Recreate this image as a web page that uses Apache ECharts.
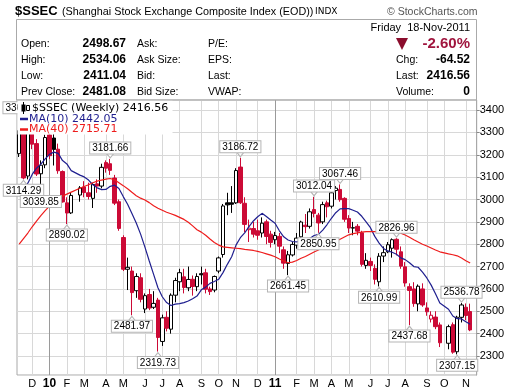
<!DOCTYPE html>
<html><head><meta charset="utf-8">
<script src="https://cdn.jsdelivr.net/npm/echarts@6/dist/echarts.min.js"></script>
<style>html,body{margin:0;padding:0;background:#fff}#c{width:520px;height:391px}</style>
</head><body><div id="c"></div>
<script>
// weekly slots (Monday of each week); null rows = market holiday weeks / padding
const weeks = ['2009-11-16','2009-11-23','2009-11-30','2009-12-07','2009-12-14','2009-12-21','2009-12-28',
'2010-01-04','2010-01-11','2010-01-18','2010-01-25','2010-02-01','2010-02-08','2010-02-15','2010-02-22',
'2010-03-01','2010-03-08','2010-03-15','2010-03-22','2010-03-29','2010-04-05','2010-04-12','2010-04-19','2010-04-26',
'2010-05-03','2010-05-10','2010-05-17','2010-05-24','2010-05-31','2010-06-07','2010-06-14','2010-06-21','2010-06-28',
'2010-07-05','2010-07-12','2010-07-19','2010-07-26','2010-08-02','2010-08-09','2010-08-16','2010-08-23','2010-08-30',
'2010-09-06','2010-09-13','2010-09-20','2010-09-27','2010-10-04','2010-10-11','2010-10-18','2010-10-25',
'2010-11-01','2010-11-08','2010-11-15','2010-11-22','2010-11-29','2010-12-06','2010-12-13','2010-12-20','2010-12-27',
'2011-01-03','2011-01-10','2011-01-17','2011-01-24','2011-01-31','2011-02-07','2011-02-14','2011-02-21','2011-02-28',
'2011-03-07','2011-03-14','2011-03-21','2011-03-28','2011-04-04','2011-04-11','2011-04-18','2011-04-25',
'2011-05-02','2011-05-09','2011-05-16','2011-05-23','2011-05-30','2011-06-06','2011-06-13','2011-06-20','2011-06-27',
'2011-07-04','2011-07-11','2011-07-18','2011-07-25','2011-08-01','2011-08-08','2011-08-15','2011-08-22','2011-08-29',
'2011-09-05','2011-09-12','2011-09-19','2011-09-26','2011-10-03','2011-10-10','2011-10-17','2011-10-24','2011-10-31',
'2011-11-07','2011-11-14','2011-11-21'];

const opens = [3205,3310,3105,3318,3250,3115,3155,3289,3275,3225,
3125,2985,2940,null,3020,3056,3030,3005,3070,3060,
3165,3160,3096,2990,2830,2688,2680,2592,2650,2510,
2575,2518,2550,2365,2473,2420,2572,2632,2654,2605,
2643,2610,2668,2672,2600,2595,2680,2754,2985,2985,
2985,3145,2983,2865,2870,2860,2850,2900,2845,2820,
2835,2775,2714,2752,2796,2833,2885,2880,2955,2930,
2900,2985,2970,3040,3045,3005,2915,2872,2880,2851,
2705,2723,2692,2632,2747,2766,2782,2822,2766,2699,
2610,2600,2533,2600,2515,2465,2474,2439,null,2357,
2440,2319,2473,2518,2498.67,null];

const highs = [3315,3361.39,3325,3332,3270,3175,3290,3306,3300,3250,
3130,3010,3030,null,3060,3082,3075,3075,3090,3160,
3175,3181.66,3110,3000,2840,2740,2700,2670,2670,2580,
2600,2590,2560,2485,2500,2580,2650,2690,2690,2700,
2660,2670,2700,2690,2610,2660,2745,2980,3030,3060,
3140,3186.72,3010,2910,2900,2910,2920,2910,2860,2855,
2850,2790,2770,2810,2850,2905,2935,2960,3012.04,2940,
2990,2995,3035,3060,3067.46,3010,2930,2900,2890,2860,
2760,2740,2710,2760,2790,2810,2826,2826.96,2790,2720,
2625,2630,2620,2625,2540,2500,2500,2450,null,2440,
2450,2480,2536.78,2535,2534.06,null];

const lows = [3190,3090,3090,3225,3105,3039.85,3140,3181,3152,3115,
2986,2890.02,2935,null,2990,3010,3000,2962,3030,3050,
3120,3110,2975,2860,2680,2595,2481.97,2560,2540,2492,
2505,2510,2319.73,2345,2410,2400,2540,2590,2580,2590,
2570,2590,2620,2580,2573,2585,2670,2740,2930,2940,
2980,2980,2853,2810,2830,2820,2830,2800,2785,2800,
2760,2690,2661.45,2745,2780,2825,2850,2870,2920,2850.95,
2890,2920,2960,3000,2990,2900,2850,2840,2840,2700,
2690,2680,2620,2610.99,2720,2760,2740,2750,2690,2610,
2437.68,2520,2500,2520,2480,2450,2420,2340,null,2330,
2310,2307.15,2450,2460,2411.04,null];

const closes = [3308.35,3096.26,3318.86,3247.35,3113.94,3153.41,3277.14,3196.00,3224.15,3128.59,
2989.29,2939.40,3018.13,null,3051.94,3031.01,3013.41,3067.17,3059.88,3143.84,
3140.06,3130.32,2983.73,2870.61,2688.00,2696.63,2583.53,2655.77,2553.59,2569.89,
2514.53,2535.28,2382.90,2470.62,2424.27,2572.00,2637.50,2672.52,2606.41,2642.31,
2610.74,2655.66,2663.19,2598.69,2588.00,2655.66,2738.74,2971.16,2975.94,2978.84,
3129.50,2985.43,2888.57,2871.80,2845.00,2840.00,2894.16,2834.58,2808.08,2838.80,
2791.17,2715.29,2752.75,2798.96,2827.33,2899.24,2878.73,2945.00,2937.63,2895.00,
2977.16,2967.41,3030.02,3050.53,2999.04,2911.51,2872.26,2874.00,2858.46,2709.95,
2728.00,2705.18,2642.82,2746.21,2762.08,2797.77,2820.17,2777.57,2701.73,2626.42,
2593.18,2534.36,2612.22,2528.29,2497.75,2482.34,2431.09,2359.22,null,2431.37,
2317.28,2473.41,2528.29,2481.08,2416.56,null];

const ma10 = [3018,3045,3073,3112,3140,3158,3182,3202,3212,3206,
3174,3159,3129,null,3109,3101,3087,3066,3052,3044,
3045,3059,3064,3049,3013,2979,2937,2895,2845,2787,
2725,2665,2605,2565,2539,2526,2532,2534,2539,2546,
2556,2568,2596,2608,2625,2633,2643,2673,2710,2744,
2796,2829,2851,2879,2904,2923,2938,2924,2908,2894,
2860,2833,2819,2812,2810,2816,2814,2826,2839,2844,
2863,2888,2916,2941,2958,2959,2959,2952,2944,2925,
2900,2874,2835,2805,2781,2770,2764,2755,2739,2731,
2717,2700,2697,2675,2649,2617,2578,2537,null,2509,
2479,2467,2466,2453,2442.05,null];

const ma40 = [2800,2825,2850,2878,2903,2928,2950,2970,2990,3005,
3015,3024,3033,null,3050,3058,3066,3075,3082,3087,
3091,3094,3088,3075,3062,3048,3032,3017,3006,2998,
2986,2972,2961,2952,2943,2936,2929,2920,2911,2898,
2882,2865,2854,2840,2823,2808,2796,2788,2786,2784,
2782,2780,2777,2775,2772,2768,2763,2757,2751,2744,
2734,2725,2717,2720,2727,2737,2745,2755,2765,2774,
2784,2794,2803,2812,2822,2832,2842,2847,2851,2854,
2856,2856,2856,2857,2859,2859,2858,2855,2849,2841,
2831,2820,2810,2800,2792,2783,2774,2766,null,2757,
2753,2748,2738,2726,2715.71,null];

// swing high / low annotations
const noteWeeks = ['2009-11-23','2009-11-23','2009-12-21','2010-02-01','2010-04-12','2010-05-17','2010-06-28','2010-11-08','2011-01-24','2011-03-14','2011-03-07','2011-04-18','2011-07-18','2011-06-20','2011-08-08','2011-10-24','2011-10-31'];
const noteKinds = ['high','low','low','low','high','low','low','high','low','low','high','high','high','low','low','low','high'];
const noteTexts = ['3361.39','3114.29','3039.85','2890.02','3181.66','2481.97','2319.73','3186.72','2661.45','2850.95','3012.04','3067.46','2826.96','2610.99','2437.68','2307.15','2536.78'];

const RED = '#cc0a36';
const FONT = 'Liberation Sans, Arial, sans-serif';
const LAST = weeks.length - 2; // last real week

const candleData = weeks.map((w, i) => {
  if (opens[i] == null) return '-';
  let p = i - 1; while (p >= 0 && closes[p] == null) p--;
  const prev = p >= 0 ? closes[p] : opens[i];
  const o = opens[i], c = closes[i];
  const col = c >= prev ? '#000' : RED;
  const fill = c > o ? '#fff' : col;
  return { value: [o, c, lows[i], highs[i]], itemStyle: { color: fill, color0: fill, borderColor: col, borderColor0: col } };
});

const monthLines = [];
weeks.forEach((w, i) => {
  if (i < weeks.length - 1 && +w.slice(8) <= 7) {
    monthLines.push({ xAxis: w, lineStyle: { color: w.slice(5, 7) === '01' ? '#9a9a9a' : '#d8d8d8', width: 1, type: 'solid' } });
  }
});

const notes = noteWeeks.map((w, k) => {
  const i = weeks.indexOf(w);
  const hi = noteKinds[k] === 'high';
  return {
    coord: [w, hi ? highs[i] : lows[i]],
    symbol: hi ? 'path://M0,0L8,0L4,5Z' : 'path://M4,0L8,5L0,5Z',
    symbolSize: [8, 5],
    symbolOffset: [0, hi ? -3.5 : 3.5],
    label: { show: true, formatter: noteTexts[k], position: hi ? 'top' : 'bottom', distance: -1 }
  };
});

const T = (x, y, text, o) => ({ type: 'text', x: x, y: y, z: 100, silent: true,
  style: Object.assign({ text: text, fill: '#000', fontSize: 10.5, fontFamily: FONT, textVerticalAlign: 'middle', textAlign: 'left' }, o || {}) });

const prevClose = closes[LAST - 1], lastClose = closes[LAST];
const chg = lastClose - prevClose;
const pct = chg / prevClose * 100;
const rowsY = [44, 60, 76, 92];
const B = { fontWeight: 'bold', fontSize: 12, textAlign: 'right' };

const graphics = [
  T(15, 11, '$SSEC', { fontSize: 13, fontWeight: 'bold' }),
  T(62, 12, '(Shanghai Stock Exchange Composite Index (EOD))', { fontSize: 10.8 }),
  T(315, 12, 'INDX', { fontSize: 9, fontFamily: 'DejaVu Sans' }),
  T(387, 12, '\u00A9 StockCharts.com', { fontSize: 10.5, fill: '#555' }),
  { type: 'rect', z: 100, silent: true, shape: { x: 16.5, y: 19.5, width: 460, height: 80.5 }, style: { fill: 'none', stroke: '#aaa', lineWidth: 1 } },
  T(470, 28, 'Friday  18-Nov-2011', { textAlign: 'right', fontSize: 11 }),
  T(21, rowsY[0], 'Open:'), T(21, rowsY[1], 'High:'), T(21, rowsY[2], 'Low:'), T(21, rowsY[3], 'Prev Close:'),
  T(126, rowsY[0], opens[LAST].toFixed(2), B), T(126, rowsY[1], highs[LAST].toFixed(2), B),
  T(126, rowsY[2], lows[LAST].toFixed(2), B), T(126, rowsY[3], prevClose.toFixed(2), B),
  T(137, rowsY[0], 'Ask:'), T(137, rowsY[1], 'Ask Size:'), T(137, rowsY[2], 'Bid:'), T(137, rowsY[3], 'Bid Size:'),
  T(208, rowsY[0], 'P/E:'), T(208, rowsY[1], 'EPS:'), T(208, rowsY[2], 'Last:'), T(208, rowsY[3], 'VWAP:'),
  { type: 'polygon', z: 100, silent: true, shape: { points: [[396, 38], [408, 38], [402, 50]] }, style: { fill: '#8b0d2d' } },
  T(470, rowsY[0], pct.toFixed(2) + '%', { fontWeight: 'bold', fontSize: 15, textAlign: 'right', fill: '#a0153e' }),
  T(396, rowsY[1], 'Chg:'), T(396, rowsY[2], 'Last:'), T(396, rowsY[3], 'Volume:'),
  T(470, rowsY[1], chg.toFixed(2), B), T(470, rowsY[2], lastClose.toFixed(2), B), T(470, rowsY[3], '0', B),
  // in-chart legend
  { type: 'rect', z: 90, silent: true, shape: { x: 17.5, y: 100.5, width: 155, height: 34 }, style: { fill: '#fff' } },
  { type: 'line', z: 100, silent: true, shape: { x1: 23.5, y1: 102, x2: 23.5, y2: 114 }, style: { stroke: '#000', lineWidth: 1 } },
  { type: 'rect', z: 100, silent: true, shape: { x: 21.5, y: 104.5, width: 4, height: 7 }, style: { fill: '#000' } },
  { type: 'rect', z: 100, silent: true, shape: { x: 26.5, y: 105.5, width: 3, height: 5 }, style: { fill: '#fff', stroke: '#000', lineWidth: 1 } },
  T(32, 108, '$SSEC (Weekly) ' + lastClose.toFixed(2), { fontFamily: 'DejaVu Sans', fontSize: 11 }),
  { type: 'line', z: 100, silent: true, shape: { x1: 20, y1: 119, x2: 28, y2: 119 }, style: { stroke: '#1f1f8f', lineWidth: 2.5 } },
  T(29, 119, 'MA(10) ' + ma10[LAST].toFixed(2), { fontFamily: 'DejaVu Sans', fontSize: 11, fill: '#1f1f8f' }),
  { type: 'line', z: 100, silent: true, shape: { x1: 20, y1: 129.5, x2: 28, y2: 129.5 }, style: { stroke: '#ee1c1c', lineWidth: 2.5 } },
  T(29, 129.5, 'MA(40) ' + ma40[LAST].toFixed(2), { fontFamily: 'DejaVu Sans', fontSize: 11, fill: '#ee1c1c' })
];

const chart = echarts.init(document.getElementById('c'), null, { renderer: 'canvas' });
chart.setOption({
  animation: false,
  backgroundColor: '#fff',
  grid: { left: 17, right: 43.3, top: 100, bottom: 16, show: true, borderColor: '#a8a8a8', borderWidth: 1, backgroundColor: '#fff' },
  xAxis: {
    type: 'category', data: weeks, boundaryGap: true,
    axisLine: { show: false }, axisTick: { show: false }, splitLine: { show: false },
    axisLabel: {
      interval: (idx, v) => idx < weeks.length - 1 && +v.slice(8) <= 7,
      formatter: (v) => { const m = +v.slice(5, 7); return m === 1 ? '{y|' + v.slice(2, 4) + '}' : 'JFMAMJJASOND'[m - 1]; },
      margin: 3, color: '#000', fontSize: 11, fontFamily: FONT,
      rich: { y: { fontWeight: 'bold', fontSize: 12, fontFamily: FONT, color: '#000' } }
    }
  },
  yAxis: {
    type: 'value', position: 'right', min: 2215, max: 3445, splitNumber: 12,
    axisLine: { show: true, lineStyle: { color: '#a8a8a8' } },
    axisTick: { show: true, length: 3, lineStyle: { color: '#888' } },
    axisLabel: { showMinLabel: false, showMaxLabel: false, formatter: (v) => (v % 100 === 0 ? String(v) : ''), color: '#000', fontSize: 11, fontFamily: FONT, margin: 3 },
    splitLine: { show: true, lineStyle: { color: '#d8d8d8', width: 1 } }
  },
  graphic: graphics,
  series: [
    { type: 'line', data: weeks.map(() => '-'), silent: true, z: 1, symbol: 'none',
      markLine: { silent: true, z: 1, symbol: ['none', 'none'], label: { show: false }, animation: false, data: monthLines } },
    { type: 'candlestick', data: candleData, barWidth: 4, z: 2, silent: true,
      markPoint: { silent: true, z: 6, animation: false,
        itemStyle: { color: '#fff', borderColor: '#b5b5b5', borderWidth: 1 },
        label: { color: '#000', fontSize: 10, fontFamily: FONT, backgroundColor: '#fff', borderColor: '#b5b5b5', borderWidth: 1, padding: [1, 2, 0, 2], lineHeight: 10 },
        data: notes } },
    { type: 'line', data: ma10, symbol: 'none', connectNulls: true, silent: true, z: 3, lineStyle: { color: '#1f1f8f', width: 1.2 } },
    { type: 'line', data: ma40, symbol: 'none', connectNulls: true, silent: true, z: 3, lineStyle: { color: '#ee1c1c', width: 1.2 } }
  ]
});
</script>
</body></html>
